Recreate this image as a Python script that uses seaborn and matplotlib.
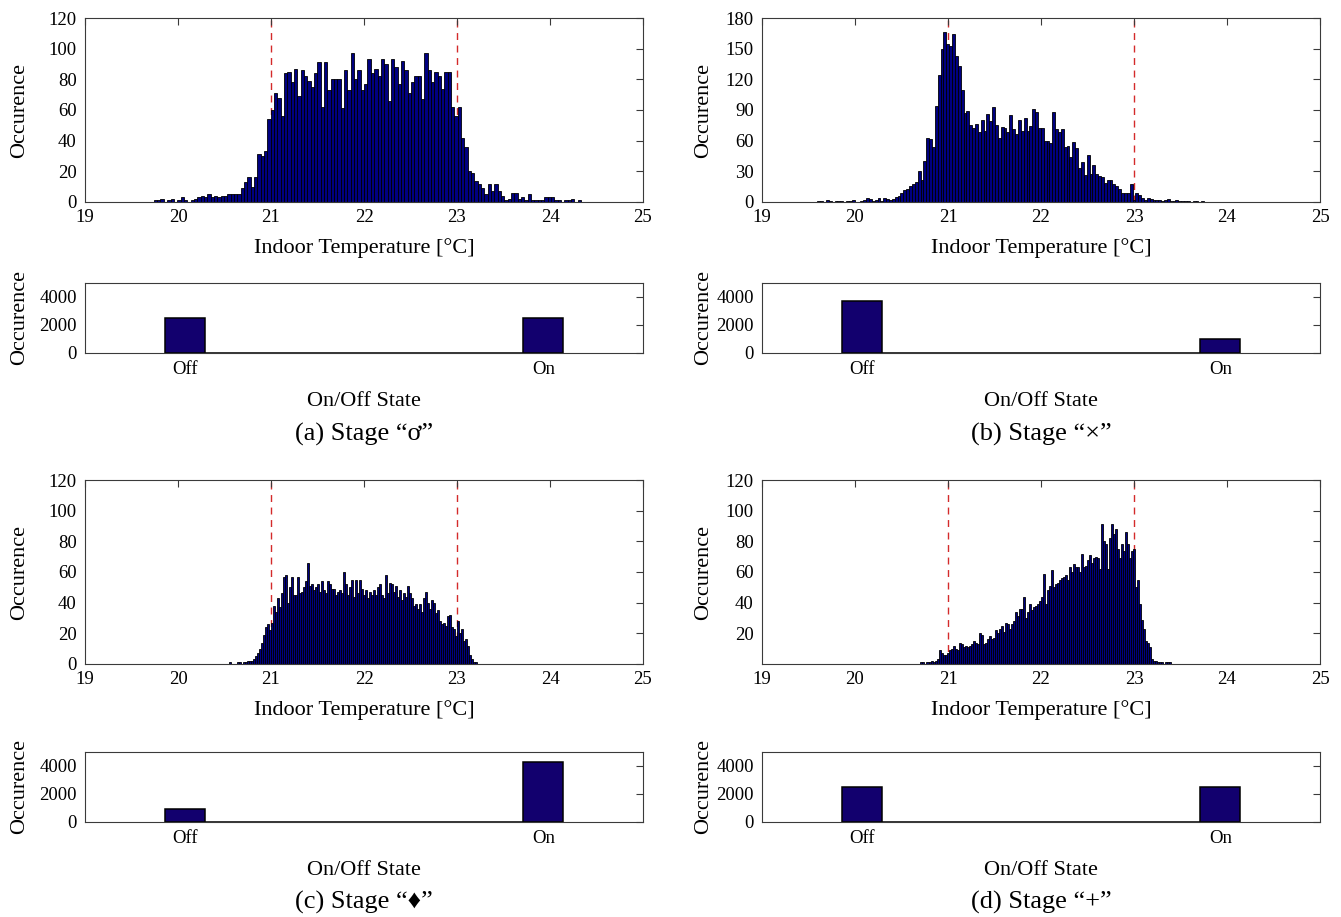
import numpy as np
import pandas as pd
import matplotlib
matplotlib.use("Agg")
import matplotlib.pyplot as plt
import seaborn as sns

# ---------------------------------------------------------------------------
# Indoor temperature histograms (counts per bin; bins evenly span lo..hi)
# ---------------------------------------------------------------------------
temp_range_a = (19.74, 24.335)
temp_counts_a = [
    1, 1, 2, 0, 1, 2, 0, 1, 3, 1, 0, 1, 2, 3, 4, 3, 5, 3, 4, 3, 4,
    4, 5, 5, 5, 5, 9, 13, 16, 10, 16, 31, 30, 33, 54, 60, 71, 68, 56, 84, 85,
    78, 87, 69, 86, 82, 79, 75, 84, 91, 62, 91, 73, 80, 80, 80, 61, 86, 73, 97,
    80, 86, 73, 77, 93, 84, 87, 82, 93, 90, 66, 93, 88, 77, 92, 86, 71, 78, 82,
    82, 67, 97, 86, 78, 85, 82, 74, 85, 85, 62, 56, 62, 42, 36, 20, 19, 14,
    12, 9, 5, 12, 7, 12, 7, 4, 1, 2, 6, 6, 2, 3, 1, 5, 1, 1, 1, 1, 3, 3, 3,
    1, 1, 0, 1, 1, 2, 0, 1,
]

temp_range_b = (19.565, 23.754)
temp_counts_b = [
    0, 1, 1, 0, 2, 1, 0, 1, 1, 1, 0, 1, 1, 2, 0, 0, 1, 2, 4, 3, 1, 2, 4, 1, 4,
    3, 2, 3, 5, 6,
    9, 12, 13, 16, 18, 20, 30, 22, 40, 63, 62, 54, 94, 124, 150, 166, 155, 153,
    164, 143, 133, 110, 87, 89, 75, 72, 76, 68, 80, 69, 86, 79, 93, 75, 63, 73,
    72, 68, 85, 71, 67, 80, 69, 82, 69, 74, 91, 88, 72, 72, 60, 60, 58, 88, 71,
    68, 71, 54, 55, 44, 59, 53, 33, 39, 26, 46, 27, 36, 27, 25, 24, 19, 22, 22,
    18, 16, 13, 9, 9, 9, 18, 2, 9, 7, 4, 2, 4,
    3, 2, 2, 2, 1, 2, 3, 1, 1, 2, 1, 1, 1, 1, 0, 1, 1, 0, 1,
]

temp_range_c = (20.55, 23.216)
temp_counts_c = [
    1, 0, 0, 0, 1, 1, 0, 1, 1, 2, 2, 2, 3, 5, 7, 10, 14, 19, 24, 26, 22, 27,
    38, 34, 43, 37, 46, 57, 58, 40, 50, 57, 45, 45, 57, 46, 47, 50, 54, 66,
    51, 52, 48, 50, 52, 47, 54, 48, 46, 54, 52, 49, 49, 45, 47, 48, 46, 60,
    52, 45, 50, 55, 44, 55, 46, 55, 49, 45, 48, 43, 47, 45, 48, 45, 50, 52,
    45, 43, 58, 46, 53, 52, 47, 51, 44, 48, 42, 46, 44, 51, 46, 43, 38, 39,
    36, 39, 34, 43, 47, 40, 36, 42, 40, 33, 35, 28, 26, 27, 25, 31, 32, 24,
    23, 18, 28, 20, 23, 15, 16, 12, 6, 3, 1, 1,
]

temp_range_d = (20.704, 23.402)
temp_counts_d = [
    1, 1, 0, 1, 1, 2, 1, 2, 3, 9, 7, 6, 6, 7, 9, 10, 12, 10, 9, 14, 13, 11,
    12, 11, 12, 13, 15, 14, 13, 20, 19, 13, 14, 16, 18, 16, 17, 22, 20, 23,
    25, 21, 27, 26, 23, 26, 28, 34, 31, 36, 36, 44, 30, 34, 39, 35, 37, 38,
    39, 41, 44, 59, 39, 48, 51, 61, 50, 52, 53, 55, 56, 57, 58, 55, 63, 60,
    65, 63, 63, 60, 72, 63, 64, 68, 71, 66, 69, 70, 69, 62, 91, 80, 78, 62,
    82, 91, 85, 88, 75, 69, 78, 74, 86, 78, 69, 74, 75, 50, 55, 39, 29, 23,
    15, 14, 11, 3, 2, 2, 1, 1, 1, 0, 1, 1, 1,
]

# ---------------------------------------------------------------------------
# On/Off state occurrences
# ---------------------------------------------------------------------------
state_labels = ["Off", "On"]
state_counts_a = [2470, 2470]
state_counts_b = [3700, 990]
state_counts_c = [920, 4260]
state_counts_d = [2470, 2470]

setpoints = [21, 23]
temp_ticks = [19, 20, 21, 22, 23, 24, 25]
captions = ["(a) Stage \u201c\u01a1\u201d", "(b) Stage \u201c\u00d7\u201d",
            "(c) Stage \u201c\u2666\u201d", "(d) Stage \u201c+\u201d"]

# ---------------------------------------------------------------------------
sns.set_style("white")
plt.rcParams["font.family"] = ["Liberation Serif", "DejaVu Sans"]
plt.rcParams["axes.unicode_minus"] = False
plt.rcParams["text.color"] = "black"
plt.rcParams["axes.labelcolor"] = "black"

W, H = 1341, 917
fig = plt.figure(figsize=(W / 100, H / 100), dpi=100)

BAR_FACE = "#000080"
STATE_FACE = "#12006e"
FRAME = "#3a3a3a"
TICK_SIZE = 13.5
LABEL_SIZE = 16
CAPTION_SIZE = 19


def px_axes(left, top, width, height):
    return fig.add_axes([left / W, 1 - (top + height) / H, width / W, height / H])


def style(ax):
    for s in ax.spines.values():
        s.set_visible(True)
        s.set_color(FRAME)
        s.set_linewidth(0.8)
    ax.tick_params(direction="in", top=True, right=True, length=5, width=0.8,
                   color=FRAME, labelsize=TICK_SIZE, labelcolor="black")
    ax.tick_params(axis="x", pad=5)
    ax.tick_params(axis="y", pad=6)


def temp_hist(ax, rng, counts, ymax, yticks, ylab_x):
    edges = np.linspace(rng[0], rng[1], len(counts) + 1)
    df = pd.DataFrame({"temp": 0.5 * (edges[:-1] + edges[1:]),
                       "count": np.asarray(counts, dtype=float)})
    for t in setpoints:
        ax.axvline(t, color="#d42a2a", linestyle=(0, (5, 4)), linewidth=1.0, zorder=0)
    sns.histplot(data=df, x="temp", weights="count", bins=list(edges), ax=ax,
                 color=BAR_FACE, edgecolor="black", linewidth=0.6, alpha=1.0, zorder=2)
    ax.set_xlim(19, 25)
    ax.set_ylim(0, ymax)
    ax.set_xticks(temp_ticks)
    ax.set_yticks(yticks)
    style(ax)
    ax.set_xlabel("Indoor Temperature [\u00b0C]", fontsize=LABEL_SIZE, labelpad=9)
    ax.set_ylabel("Occurence", fontsize=LABEL_SIZE)
    ax.yaxis.set_label_coords(ylab_x, 0.5)


def state_hist(ax, counts, ylab_x):
    edges = np.linspace(0, 1, 11)
    df = pd.DataFrame({"state": [0.0, 1.0], "count": np.asarray(counts, dtype=float)})
    sns.histplot(data=df, x="state", weights="count", bins=list(edges), ax=ax,
                 color=STATE_FACE, edgecolor="black", linewidth=1.1, alpha=1.0)
    ax.set_xlim(-0.2, 1.2)
    ax.set_ylim(0, 5000)
    ax.set_xticks([0.05, 0.95])
    ax.set_xticklabels(state_labels)
    ax.set_yticks([0, 2000, 4000])
    style(ax)
    ax.tick_params(axis="x", top=False, bottom=False, pad=6)
    ax.set_xlabel("On/Off State", fontsize=LABEL_SIZE, labelpad=10)
    ax.set_ylabel("Occurence", fontsize=LABEL_SIZE)
    ax.yaxis.set_label_coords(ylab_x, 0.5)


AX_W = 558
cols = [85, 762]
ylab = [-0.1, -0.088]

panels = [
    (0, 0, temp_range_a, temp_counts_a, 120, list(range(0, 121, 20)), state_counts_a),
    (1, 0, temp_range_b, temp_counts_b, 180, list(range(0, 181, 30)), state_counts_b),
    (0, 1, temp_range_c, temp_counts_c, 120, list(range(0, 121, 20)), state_counts_c),
    (1, 1, temp_range_d, temp_counts_d, 120, list(range(20, 121, 20)), state_counts_d),
]
hist_tops = [18, 480]
state_tops = [283, 752]
caption_y = [434, 902]

for k, (c, r, rng, counts, ymax, yt, states) in enumerate(panels):
    ax_h = px_axes(cols[c], hist_tops[r], AX_W, 184)
    temp_hist(ax_h, rng, counts, ymax, yt, ylab[c])
    ax_s = px_axes(cols[c], state_tops[r], AX_W, 70)
    state_hist(ax_s, states, ylab[c])
    fig.text((cols[c] + AX_W / 2) / W, 1 - caption_y[r] / H, captions[k],
             ha="center", va="center", fontsize=CAPTION_SIZE)

fig.savefig("out.png", dpi=100)
